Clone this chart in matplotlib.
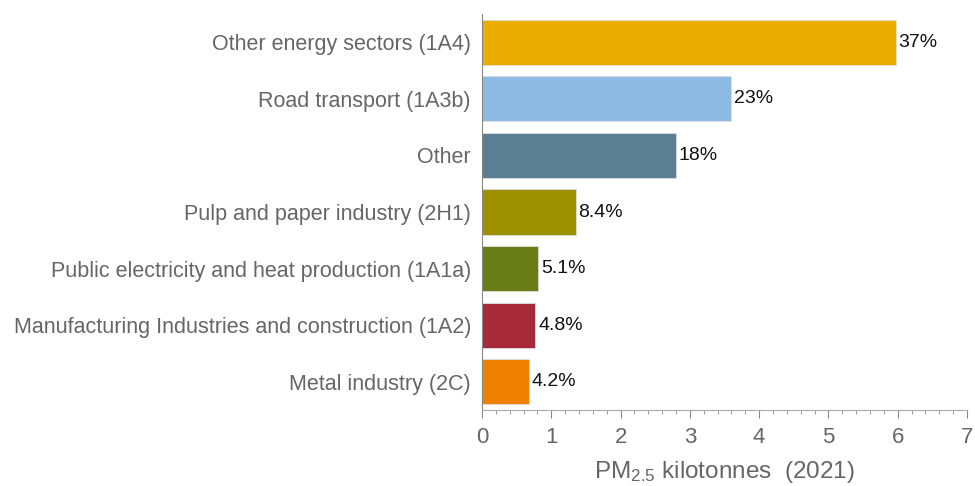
import matplotlib
matplotlib.use("Agg")
import matplotlib.pyplot as plt
from matplotlib.ticker import MultipleLocator

plt.rcParams['font.family'] = ['Liberation Sans', 'DejaVu Sans']
plt.rcParams['mathtext.fontset'] = 'custom'
plt.rcParams['mathtext.rm'] = 'Liberation Sans'
plt.rcParams['mathtext.it'] = 'Liberation Sans'

categories = [
    "Other energy sectors (1A4)",
    "Road transport (1A3b)",
    "Other",
    "Pulp and paper industry (2H1)",
    "Public electricity and heat production (1A1a)",
    "Manufacturing Industries and construction (1A2)",
    "Metal industry (2C)",
]
values = [5.97, 3.59, 2.80, 1.35, 0.81, 0.77, 0.68]
shares = ["37%", "23%", "18%", "8.4%", "5.1%", "4.8%", "4.2%"]
colors = ["#EAAD00", "#8DB9E3", "#5A7F92", "#9D9100", "#6A7D16", "#A62A3A", "#EE8200"]

fig = plt.figure(figsize=(9.75, 4.86), dpi=100)
ax = fig.add_axes([482/975, 1-410/486, 485/975, 396/486])

y = list(range(len(categories)))
ax.barh(y, values, height=0.8, color=colors, edgecolor="#dddddd", linewidth=0.6)
for yi, v, s in zip(y, values, shares):
    ax.text(v + 0.04, yi, s, va="center", ha="left", fontsize=14, color="#111111")

ax.set_ylim(len(categories) - 0.5, -0.5)
ax.set_xlim(0, 7)
ax.set_yticks(y)
ax.set_yticklabels(categories, fontsize=15.5, color="#666666")
ax.tick_params(axis="y", length=0, pad=8)
ax.xaxis.set_major_locator(MultipleLocator(1))
ax.xaxis.set_minor_locator(MultipleLocator(0.2))
ax.tick_params(axis="x", which="major", length=6, color="#888888", labelsize=16,
               labelcolor="#666666", pad=6)
ax.tick_params(axis="x", which="minor", length=3, color="#888888")
for side in ["top", "right"]:
    ax.spines[side].set_visible(False)
ax.spines["left"].set_color("#888888")
ax.spines["bottom"].set_color("#aaaaaa")
ax.set_xlabel(r"PM$_{2.5}$ kilotonnes  (2021)", fontsize=17.5, color="#666666", labelpad=8)

fig.savefig("out.png", dpi=100)
